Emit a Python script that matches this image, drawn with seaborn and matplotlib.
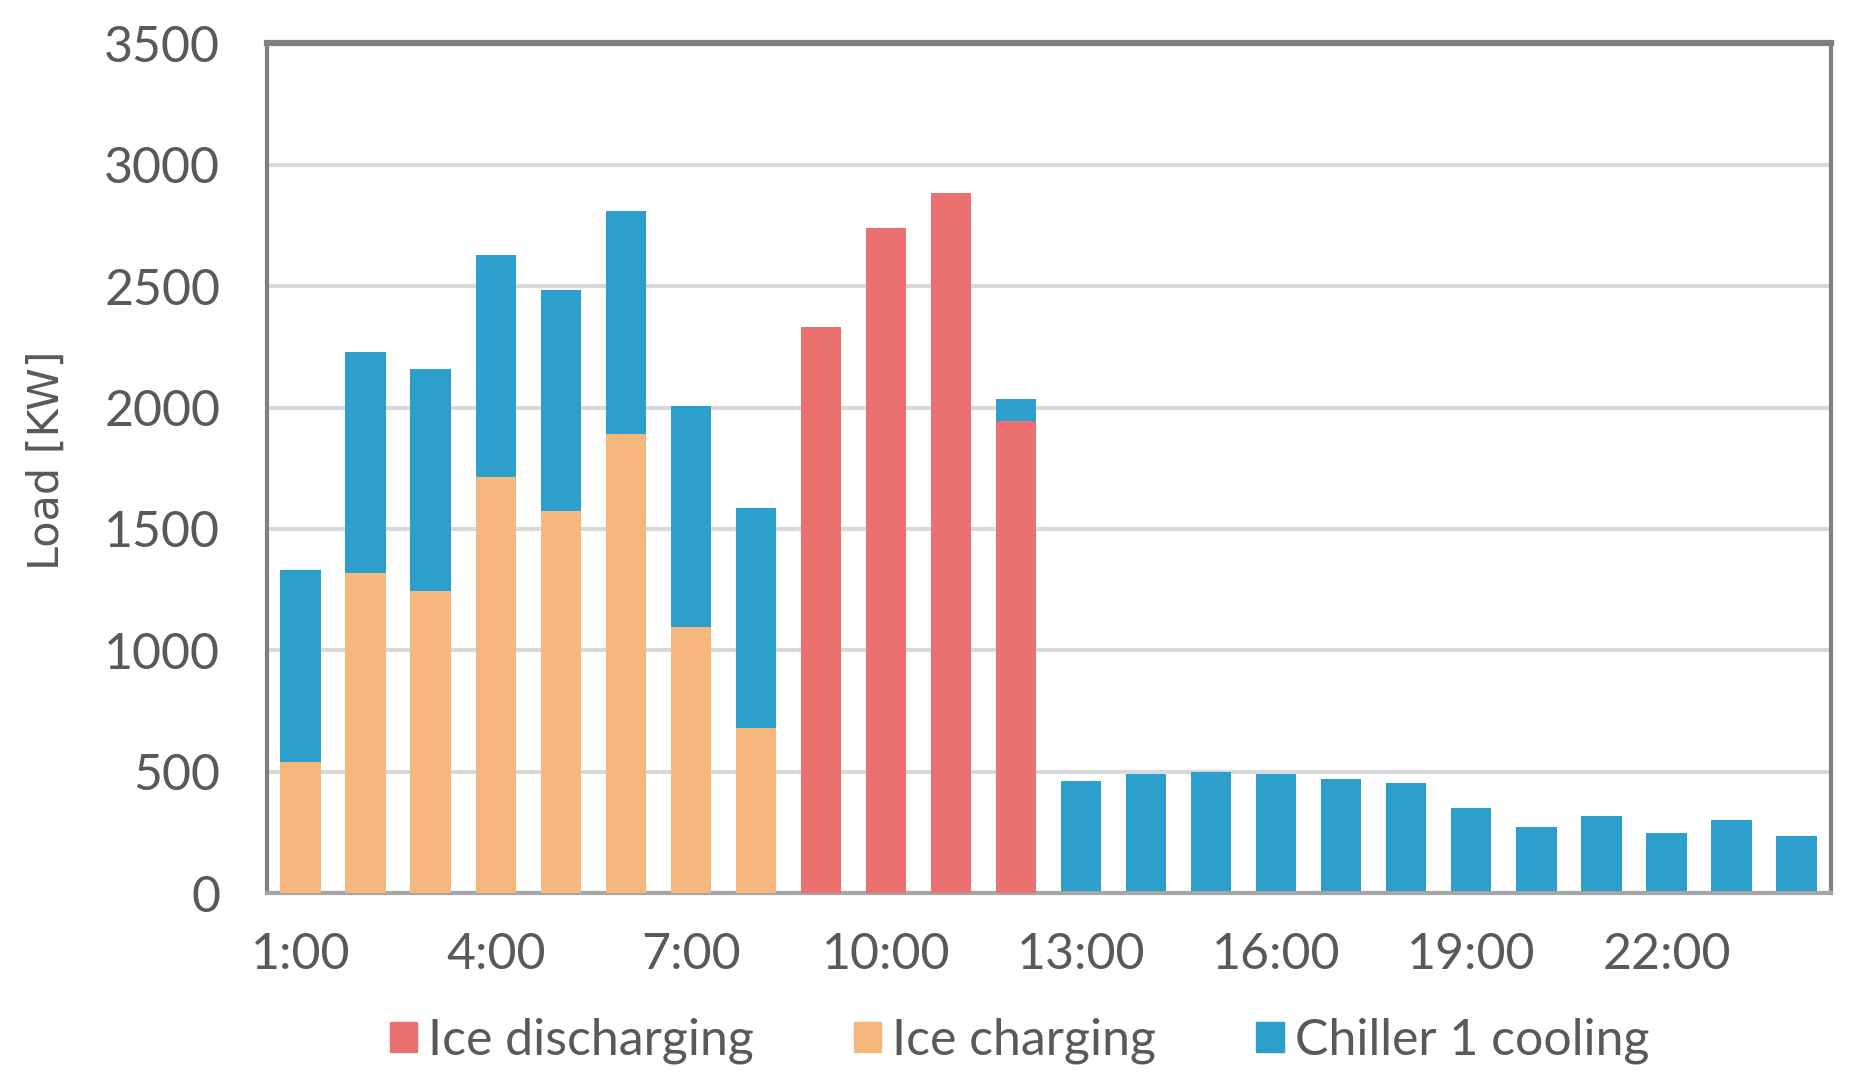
import numpy as np
import pandas as pd
import matplotlib.pyplot as plt
import seaborn as sns
from matplotlib.patches import Patch

hours = [f"{h}:00" for h in range(1, 25)]
ice_discharging = [0, 0, 0, 0, 0, 0, 0, 0, 2333, 2740, 2882, 1946,
                   0, 0, 0, 0, 0, 0, 0, 0, 0, 0, 0, 0]
ice_charging = [539, 1319, 1245, 1716, 1574, 1892, 1098, 681, 0, 0, 0, 0,
                0, 0, 0, 0, 0, 0, 0, 0, 0, 0, 0, 0]
chiller_cooling = [794, 911, 912, 911, 911, 917, 907, 907, 0, 0, 0, 88,
                   462, 490, 500, 490, 472, 453, 353, 273, 318, 247, 300, 236]

RED = "#EB7070"
ORANGE = "#F5B77C"
BLUE = "#2C9FCA"
TXT = "#595959"

df = pd.DataFrame({
    "hour": hours,
    "dis": ice_discharging,
    "chg": ice_charging,
    "chl": chiller_cooling,
})
df["total"] = df["dis"] + df["chg"] + df["chl"]

sns.set_style("white")
plt.rcParams["font.family"] = ["Lato", "DejaVu Sans"]

fig = plt.figure(figsize=(18.57, 10.84), dpi=100)
ax = fig.add_axes([0.144, 0.176, 0.842, 0.784])

# stacked look: total (blue) behind, lower parts drawn over it
bar_kw = dict(x="hour", width=0.62, saturation=1, linewidth=0, ax=ax)
sns.barplot(data=df, y="total", color=BLUE, zorder=2, **bar_kw)
sns.barplot(data=df, y="chg", color=ORANGE, zorder=3, **bar_kw)
sns.barplot(data=df, y="dis", color=RED, zorder=4, **bar_kw)

ax.set_xlim(-0.51, 23.53)
ax.set_ylim(0, 3500)
ax.set_yticks(np.arange(0, 3501, 500))
ax.set_xticks(range(0, 24, 3))
ax.set_xticklabels(hours[::3])
ax.yaxis.grid(True, color="#D9D9D9", linewidth=3, zorder=0)
ax.set_axisbelow(True)
ax.tick_params(axis="both", length=0, labelsize=36, colors=TXT)
ax.tick_params(axis="x", pad=28)
ax.tick_params(axis="y", pad=34)

for s in ax.spines.values():
    s.set_color("#808080")
    s.set_linewidth(3)
ax.spines["top"].set_linewidth(4.5)
ax.spines["bottom"].set_color("#A6A6A6")

ax.set_xlabel("")
ax.set_ylabel("Load [KW]", fontsize=31, color=TXT, fontfamily="DejaVu Sans")
ax.yaxis.set_label_coords(-0.128, 0.51)

handles = [Patch(color=RED, label="Ice discharging"),
           Patch(color=ORANGE, label="Ice charging"),
           Patch(color=BLUE, label="Chiller 1 cooling")]
fig.legend(handles=handles, loc="center", bbox_to_anchor=(0.549, 0.04),
           ncol=3, frameon=False, fontsize=36, handlelength=0.55,
           handleheight=0.55, handletextpad=0.22, columnspacing=2.0,
           labelcolor=TXT)

fig.savefig("out.png", dpi=100)
